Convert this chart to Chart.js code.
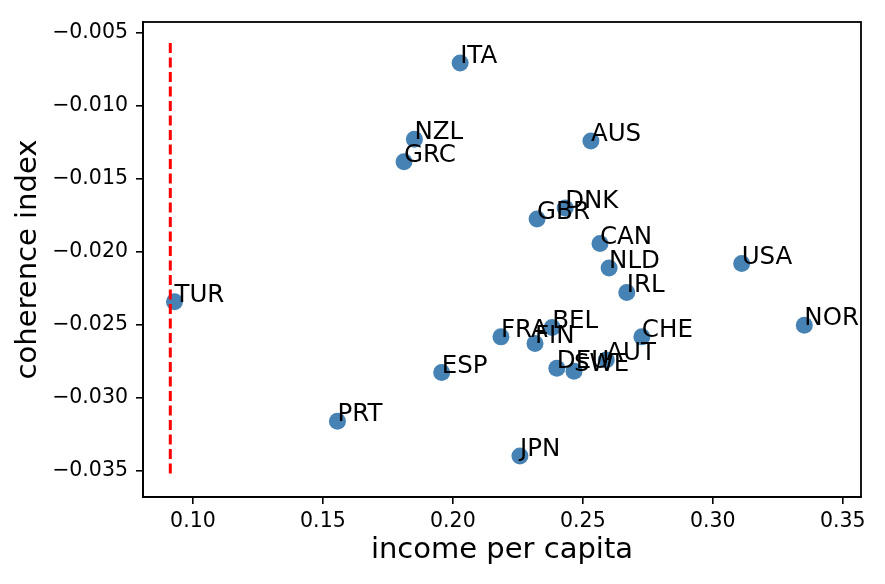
<!DOCTYPE html>
<html>
<head>
<meta charset="utf-8">
<script src="https://cdn.jsdelivr.net/npm/chart.js@4"></script>
<style>
  html, body { margin: 0; padding: 0; background: #fff; }
  canvas { display: block; }
</style>
</head>
<body>
<canvas id="chartCoherencia" width="885" height="584"></canvas>
<script>
  const countries = ['AUS', 'AUT', 'BEL', 'CAN', 'CHE', 'DEU', 'DNK', 'ESP', 'FIN', 'FRA', 'GBR',
    'GRC', 'IRL', 'ITA', 'JPN', 'NLD', 'NOR', 'NZL', 'PRT', 'SWE', 'TUR', 'USA'];
  const income = [0.2531, 0.2590, 0.2382, 0.2566, 0.2727, 0.2400, 0.2432, 0.1957, 0.2316, 0.2185, 0.2324,
    0.1812, 0.2669, 0.2028, 0.2258, 0.2601, 0.3352, 0.1852, 0.1556, 0.2466, 0.0929, 0.3111];
  const coherence = [-0.01242, -0.0274, -0.02518, -0.01943, -0.02582, -0.02797, -0.0170, -0.02826, -0.02627, -0.02582, -0.01776,
    -0.01384, -0.02278, -0.00708, -0.03397, -0.0211, -0.02502, -0.0123, -0.0316, -0.02817, -0.02342, -0.0208];

  // red dashed vertical line
  const vlineX = 0.0913;
  const vlineY = [-0.0057, -0.0353];

  const xTicks = [0.10, 0.15, 0.20, 0.25, 0.30, 0.35];
  const yTicks = [-0.005, -0.010, -0.015, -0.020, -0.025, -0.030, -0.035];

  const FONT = "'DejaVu Sans', sans-serif";

  const etiquetas = {
    id: 'etiquetas',
    afterDatasetsDraw(chart) {
      const c = chart.ctx;
      const sx = chart.scales.x, sy = chart.scales.y;
      c.save();
      c.font = '24.5px ' + FONT;
      c.fillStyle = '#000';
      c.textAlign = 'left';
      c.textBaseline = 'alphabetic';
      countries.forEach((name, i) => {
        c.fillText(name, sx.getPixelForValue(income[i]), sy.getPixelForValue(coherence[i]));
      });
      c.restore();
    },
    afterDraw(chart) {
      const a = chart.chartArea, c = chart.ctx;
      c.save();
      c.strokeStyle = '#000';
      c.lineWidth = 1.8;
      c.strokeRect(a.left, a.top, a.right - a.left, a.bottom - a.top);
      c.restore();
    }
  };

  const ctx = document.getElementById('chartCoherencia');

  new Chart(ctx, {
    type: 'scatter',
    data: {
      datasets: [{
        type: 'line',
        data: vlineY.map(v => ({ x: vlineX, y: v })),
        borderColor: '#ff0000',
        borderWidth: 3,
        borderDash: [10, 4.5],
        pointRadius: 0,
        fill: false
      }, {
        data: countries.map((n, i) => ({ x: income[i], y: coherence[i] })),
        backgroundColor: '#4682b4',
        borderWidth: 0,
        pointRadius: 8.5,
        pointHoverRadius: 8.5
      }]
    },
    options: {
      responsive: false,
      animation: false,
      devicePixelRatio: 1,
      layout: { padding: { top: 22, right: 24, left: 0, bottom: 0 } },
      plugins: { legend: { display: false }, tooltip: { enabled: false } },
      scales: {
        x: {
          type: 'linear',
          min: 0.0808,
          max: 0.357,
          afterFit: s => { s.height = 87; },
          afterBuildTicks: s => { s.ticks = xTicks.map(v => ({ value: v })); },
          grid: { drawOnChartArea: false, tickLength: 7, color: '#000', lineWidth: 1.6 },
          border: { color: '#000', width: 1.8 },
          ticks: {
            padding: 5,
            color: '#000',
            font: { family: FONT, size: 20.5 },
            maxRotation: 0,
            callback: v => v.toFixed(2)
          },
          title: {
            display: true,
            text: 'income per capita',
            color: '#000',
            font: { family: FONT, size: 29 },
            padding: { top: 0, bottom: 16 }
          }
        },
        y: {
          type: 'linear',
          min: -0.03678,
          max: -0.00427,
          afterFit: s => { s.width = 143; },
          afterBuildTicks: s => { s.ticks = yTicks.map(v => ({ value: v })); },
          grid: { drawOnChartArea: false, tickLength: 7, color: '#000', lineWidth: 1.6 },
          border: { color: '#000', width: 1.8 },
          ticks: {
            padding: 8,
            color: '#000',
            font: { family: FONT, size: 20.5 },
            callback: v => '\u2212' + Math.abs(v).toFixed(3)
          },
          title: {
            display: true,
            text: 'coherence index',
            color: '#000',
            font: { family: FONT, size: 29 },
            padding: { top: 11, bottom: 0 }
          }
        }
      }
    },
    plugins: [etiquetas]
  });
</script>
</body>
</html>
